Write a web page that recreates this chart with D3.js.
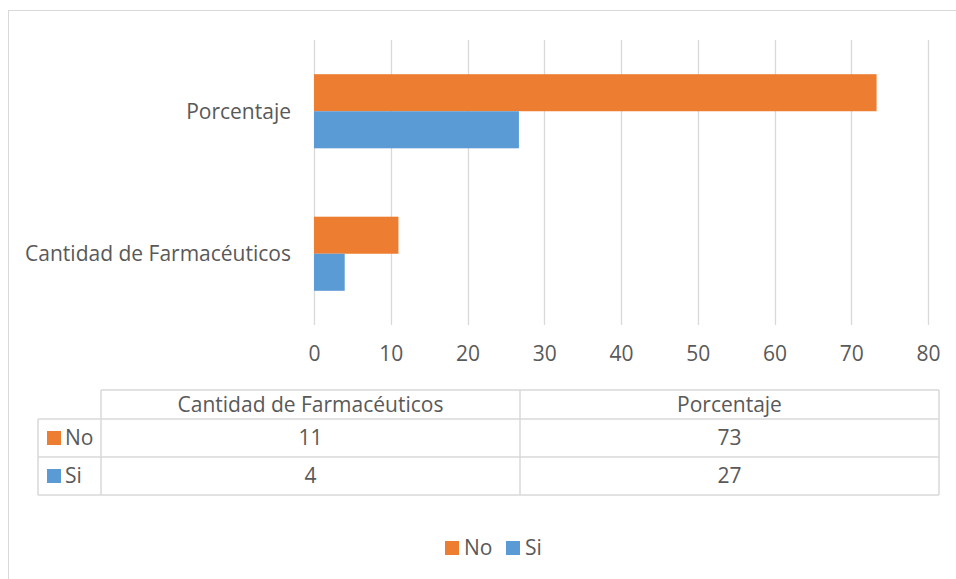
<!DOCTYPE html>
<html>
<head>
<meta charset="utf-8">
<script src="https://cdn.jsdelivr.net/npm/d3@7"></script>
<style>
  body { margin: 0; background: #fff; }
  text { font-family: "Open Sans", sans-serif; fill: #595959; }
</style>
</head>
<body>
<div id="chart"></div>
<script>
// data
var categories = ["Cantidad de Farmacéuticos", "Porcentaje"];
var seriesNames = ["No", "Si"];
var noValues = [11, 73.3];
var siValues = [4, 26.7];
var tableNo = ["11", "73"];
var tableSi = ["4", "27"];
var xTicks = [0, 10, 20, 30, 40, 50, 60, 70, 80];
var colors = ["#ED7D31", "#5B9BD5"];

var width = 956, height = 579;
var fs = 21;
var svg = d3.select("#chart").append("svg")
    .attr("width", width)
    .attr("height", height);

// outer frame
svg.append("rect")
    .attr("x", 8.5).attr("y", 10.5)
    .attr("width", 960).attr("height", 600)
    .attr("fill", "none")
    .attr("stroke", "#d9d9d9");

var plot = {left: 314, right: 928, top: 40, bottom: 325};

var xScale = d3.scaleLinear()
    .domain([0, 80])
    .range([plot.left, plot.right]);

// Excel reverses category order on a bar chart
var yScale = d3.scaleBand()
    .domain(categories.slice().reverse())
    .range([plot.top, plot.bottom])
    .paddingInner(0.48)
    .paddingOuter(0.24);

var sub = d3.scaleBand()
    .domain(seriesNames)
    .range([0, yScale.bandwidth()]);

// gridlines
svg.append("g")
  .selectAll("line")
  .data(xTicks)
  .enter().append("line")
    .attr("x1", function(d) { return Math.round(xScale(d)) + 0.5; })
    .attr("x2", function(d) { return Math.round(xScale(d)) + 0.5; })
    .attr("y1", plot.top)
    .attr("y2", plot.bottom)
    .attr("stroke", "#d9d9d9")
    .attr("stroke-width", 1.3);

// bars
var rows = categories.map(function(c, i) {
  return {cat: c, vals: [noValues[i], siValues[i]]};
});

var group = svg.selectAll(".item")
    .data(rows)
    .enter().append("g")
    .attr("class", "item")
    .attr("transform", function(d) { return "translate(0," + yScale(d.cat) + ")"; });

group.selectAll("rect")
    .data(function(d) { return d.vals; })
    .enter().append("rect")
    .attr("x", xScale(0))
    .attr("y", function(d, i) { return sub(seriesNames[i]); })
    .attr("width", function(d) { return xScale(d) - xScale(0); })
    .attr("height", sub.bandwidth())
    .attr("fill", function(d, i) { return colors[i]; });

// category labels
svg.append("g")
  .selectAll("text")
  .data(categories)
  .enter().append("text")
    .attr("x", 291)
    .attr("y", function(d) { return yScale(d) + yScale.bandwidth() / 2; })
    .attr("dy", "0.35em")
    .attr("text-anchor", "end")
    .attr("font-size", fs)
    .text(function(d) { return d; });

// x axis labels
var xAxis = d3.axisBottom(xScale).tickValues(xTicks).tickSize(0).tickPadding(0);
var axG = svg.append("g")
    .attr("transform", "translate(0,346)")
    .call(xAxis);
axG.select(".domain").remove();
axG.selectAll("text")
    .attr("font-size", fs)
    .attr("font-family", "Open Sans")
    .attr("fill", "#595959");

// data table
var tbl = {x0: 38, x1: 101, x2: 520, x3: 939, y0: 390, y1: 419, y2: 457, y3: 495};
var tableG = svg.append("g")
    .attr("stroke", "#d9d9d9")
    .attr("stroke-width", 1.5)
    .attr("fill", "none");

[tbl.y0].forEach(function(y) {
  tableG.append("line").attr("x1", tbl.x1).attr("x2", tbl.x3).attr("y1", y).attr("y2", y);
});
[tbl.y1, tbl.y2, tbl.y3].forEach(function(y) {
  tableG.append("line").attr("x1", tbl.x0).attr("x2", tbl.x3).attr("y1", y).attr("y2", y);
});
tableG.append("line").attr("x1", tbl.x0).attr("x2", tbl.x0).attr("y1", tbl.y1).attr("y2", tbl.y3);
[tbl.x1, tbl.x2, tbl.x3].forEach(function(x) {
  tableG.append("line").attr("x1", x).attr("x2", x).attr("y1", tbl.y0).attr("y2", tbl.y3);
});

var colCenters = [(tbl.x1 + tbl.x2) / 2, (tbl.x2 + tbl.x3) / 2];
var rowCenters = [(tbl.y1 + tbl.y2) / 2, (tbl.y2 + tbl.y3) / 2];

svg.append("g").selectAll("text")
  .data(categories)
  .enter().append("text")
    .attr("x", function(d, i) { return colCenters[i]; })
    .attr("y", (tbl.y0 + tbl.y1) / 2)
    .attr("dy", "0.35em")
    .attr("text-anchor", "middle")
    .attr("font-size", fs)
    .text(function(d) { return d; });

[tableNo, tableSi].forEach(function(vals, r) {
  svg.append("g").selectAll("text")
    .data(vals)
    .enter().append("text")
      .attr("x", function(d, i) { return colCenters[i]; })
      .attr("y", rowCenters[r])
      .attr("dy", "0.35em")
      .attr("text-anchor", "middle")
      .attr("font-size", fs)
      .text(function(d) { return d; });

  svg.append("rect")
    .attr("x", 47).attr("y", rowCenters[r] - 7)
    .attr("width", 14).attr("height", 14)
    .attr("fill", colors[r]);
  svg.append("text")
    .attr("x", 65).attr("y", rowCenters[r])
    .attr("dy", "0.35em")
    .attr("font-size", fs)
    .text(seriesNames[r]);
});

// legend
var legendX = [445, 506];
var legend = svg.append("g").attr("class", "multiline-legend");
seriesNames.forEach(function(name, i) {
  legend.append("rect")
    .attr("x", legendX[i]).attr("y", 541)
    .attr("width", 14).attr("height", 14)
    .attr("fill", colors[i]);
  legend.append("text")
    .attr("x", legendX[i] + 19).attr("y", 548)
    .attr("dy", "0.35em")
    .attr("font-size", fs)
    .text(name);
});
</script>
</body>
</html>
